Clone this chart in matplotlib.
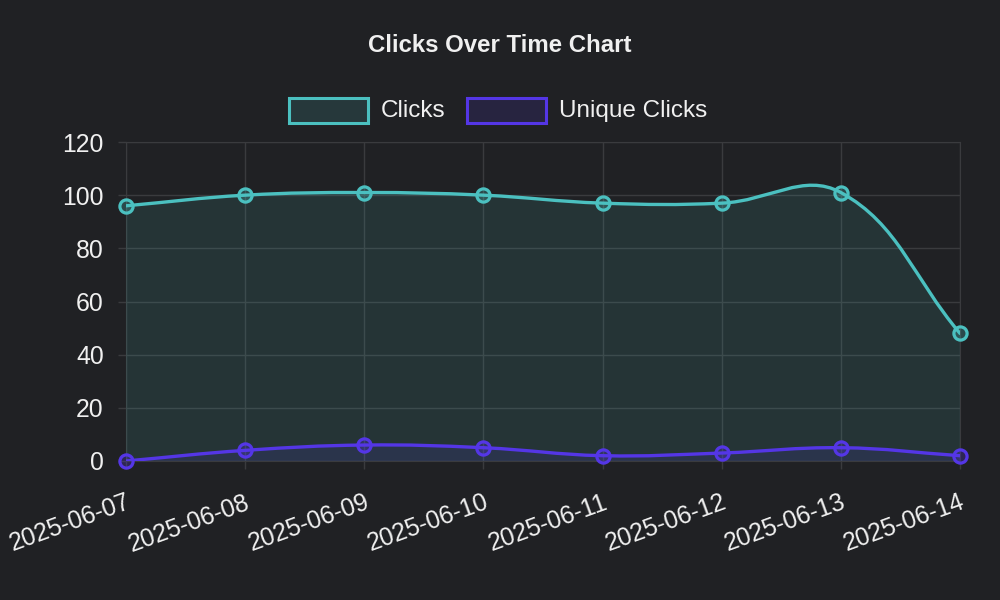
import numpy as np
import matplotlib
matplotlib.use("Agg")
import matplotlib.pyplot as plt
from matplotlib.path import Path
from matplotlib.patches import PathPatch, Rectangle

dates = ["2025-06-07", "2025-06-08", "2025-06-09", "2025-06-10",
         "2025-06-11", "2025-06-12", "2025-06-13", "2025-06-14"]
clicks = [96, 100, 101, 100, 97, 97, 101, 48]
unique_clicks = [0, 4, 6, 5, 2, 3, 5, 2]

BG = "#202124"
GRID = "#3a3b3e"
TEXT = "#f0f0f0"
TEAL = "#4bc0c0"
PURPLE = "#5436e6"

plt.rcParams["font.family"] = ["Liberation Sans", "DejaVu Sans"]

fig = plt.figure(figsize=(10, 6), dpi=100, facecolor=BG)
ax = fig.add_axes([0.126, 1 - 461 / 600, 0.834, (461 - 142) / 600])
ax.set_facecolor(BG)
x = np.arange(len(dates))
ax.set_xlim(0, len(dates) - 1)
ax.set_ylim(0, 120)


def spline_path(xs, ys, tension=0.4):
    # Chart.js style bezier control points, worked out in pixel space
    pts = ax.transData.transform(np.column_stack([xs, ys]))
    n = len(pts)
    cps = []
    for i in range(n):
        prev = pts[i - 1] if i > 0 else pts[i]
        cur = pts[i]
        nxt = pts[i + 1] if i < n - 1 else pts[i]
        d01 = np.hypot(*(cur - prev))
        d12 = np.hypot(*(nxt - cur))
        tot = d01 + d12
        s01 = d01 / tot if tot else 0
        s12 = d12 / tot if tot else 0
        c_prev = cur - tension * s01 * (nxt - prev)
        c_next = cur + tension * s12 * (nxt - prev)
        cps.append((c_prev, c_next))
    verts = [pts[0]]
    codes = [Path.MOVETO]
    for i in range(1, n):
        verts += [cps[i - 1][1], cps[i][0], pts[i]]
        codes += [Path.CURVE4] * 3
    verts = ax.transData.inverted().transform(np.array(verts))
    return verts, codes


def draw_series(ys, color, z):
    verts, codes = spline_path(x, ys)
    line = Path(verts, codes)
    ax.add_patch(PathPatch(line, fill=False, edgecolor=color, lw=2.4,
                           zorder=z + 1, capstyle="round", joinstyle="round"))
    fverts = np.vstack([verts, [[x[-1], 0], [x[0], 0], [x[0], ys[0]]]])
    fcodes = codes + [Path.LINETO, Path.LINETO, Path.CLOSEPOLY]
    ax.add_patch(PathPatch(Path(fverts, fcodes), facecolor=color, alpha=0.12,
                           edgecolor="none", zorder=z))
    ax.plot(x, ys, "o", ms=9.5, mfc=matplotlib.colors.to_rgba(color, 0.25),
            mec=color, mew=2.3, zorder=z + 2, clip_on=False)


draw_series(clicks, TEAL, 3)
draw_series(unique_clicks, PURPLE, 5)

ax.set_yticks(range(0, 121, 20))
ax.set_xticks(x)
ax.set_xticklabels(dates, rotation=20, ha="right", va="top",
                   rotation_mode="anchor")
ax.grid(True, color=GRID, lw=1)
ax.set_axisbelow(True)
for s in ax.spines.values():
    s.set_color(GRID)
ax.tick_params(colors=GRID, labelcolor=TEXT, labelsize=17.8, length=6,
               width=1)
ax.tick_params(axis="x", pad=15)
ax.tick_params(axis="y", pad=10)

fig.text(0.5, 1 - 45 / 600, "Clicks Over Time Chart", color=TEXT,
         fontsize=17.3, fontweight="bold", ha="center", va="center")

# legend boxes
for bx, tx, col, lab in [(289, 381, TEAL, "Clicks"),
                         (467, 559, PURPLE, "Unique Clicks")]:
    fig.patches.append(Rectangle((bx / 1000, 1 - 123 / 600), 79 / 1000,
                                 25 / 600, transform=fig.transFigure,
                                 facecolor=matplotlib.colors.to_rgba(col, 0.15),
                                 edgecolor=col, lw=2.2))
    fig.text(tx / 1000, 1 - 111 / 600, lab, color=TEXT, fontsize=17.5,
             ha="left", va="center")

fig.savefig("out.png", dpi=100, facecolor=BG)
